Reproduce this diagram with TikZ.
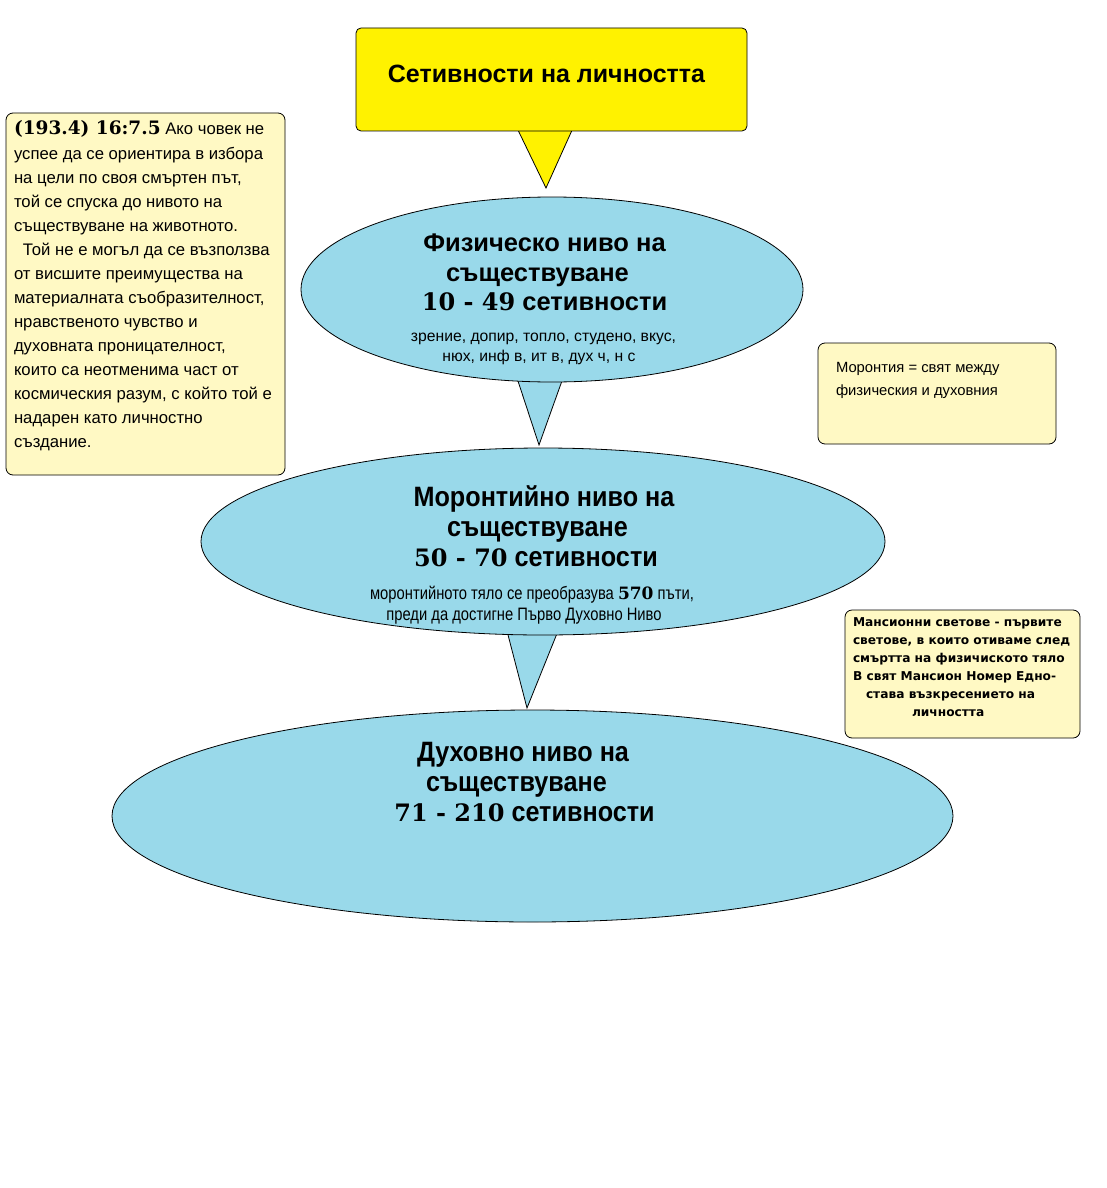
\documentclass[tikz,border=0pt]{standalone}
\usepackage{fontspec}
\setmainfont{Liberation Sans}
\newfontfamily\numfont{DejaVu Serif}
\newfontfamily\narrowfont[FakeStretch=0.82]{Liberation Sans}
\newfontfamily\narrowbfont[FakeStretch=0.9]{Liberation Sans}
\newfontfamily\sbfont{DejaVu Sans}
\usetikzlibrary{shapes.geometric,calc,backgrounds}
\definecolor{ylw}{RGB}{255,242,0}
\definecolor{blu}{RGB}{153,217,234}
\definecolor{notec}{RGB}{255,249,196}
\begin{document}
\begin{tikzpicture}[x=1pt,y=-1pt,
  every node/.style={inner sep=0pt,outer sep=0pt},
  lvl/.style={ellipse,draw=black,line width=0.8pt,fill=blu},
  notebox/.style={draw=black,line width=0.8pt,fill=notec,rounded corners=7pt},
  titlebox/.style={draw=black,line width=0.8pt,fill=ylw,rounded corners=5pt},
  ptr/.style={draw=black,line width=0.8pt,line join=miter},
  bigb/.style={anchor=base,font=\fontsize{25.5}{25.5}\selectfont\bfseries},
  bign/.style={anchor=base,font=\fontsize{28}{28}\narrowbfont\bfseries},
  bignum/.style={},
  smallt/.style={anchor=base,font=\fontsize{15.7}{15.7}\selectfont},
  smalln/.style={anchor=base,font=\fontsize{18}{18}\narrowfont},
  notet/.style={anchor=base west,font=\fontsize{16.7}{16.7}\selectfont},
  mant/.style={anchor=base west,font=\fontsize{12.2}{12.2}\sbfont\bfseries}]
\useasboundingbox (0,0) rectangle (1106,1188);

% shapes
\node[titlebox,minimum width=391pt,minimum height=103pt] (title) at (551.5,79.5) {};
\node[lvl,minimum width=502pt,minimum height=185pt] (e1) at (552,289.5) {};
\node[lvl,minimum width=684pt,minimum height=187pt] (e2) at (543,541.5) {};
\node[lvl,minimum width=841pt,minimum height=212pt] (e3) at (532.5,816) {};
\node[notebox,minimum width=279pt,minimum height=362pt] (left) at (145.5,294) {};
\node[notebox,minimum width=238pt,minimum height=101pt] (moron) at (937,393.5) {};
\node[notebox,minimum width=235pt,minimum height=128pt] (mans) at (962.5,674) {};

% pointers
\coordinate (tipT) at ($(e1.north)+(-6,-9)$);
\coordinate (tip1) at ($(e2.north)+(-4,-3)$);
\coordinate (tip2) at ($(e3.north)+(-5.5,-2)$);
\begin{pgfonlayer}{background}
\fill[white] (0,0) rectangle (1106,1188);
\filldraw[ptr,fill=ylw] ($(title.south)+(-34.5,-3)$) -- (tipT) -- ($(title.south)+(21.5,-3)$);
\filldraw[ptr,fill=blu] ($(e1.south)+(-35,-4)$) -- (tip1) -- ($(e1.south)+(11,-4)$);
\filldraw[ptr,fill=blu] ($(e2.south)+(-36,-4)$) -- (tip2) -- ($(e2.south)+(15,-4)$);
\end{pgfonlayer}

% title
\node[anchor=base,font=\fontsize{25}{25}\selectfont\bfseries] (ttl) at (546.5,83) {Сетивности на личността};

% ellipse 1
\node[bigb] (e1a) at (544.5,251) {Физическо ниво на};
\node[bigb] (e1b) at (537.5,281) {съществуване};
\node[bigb] (e1c) at (544.5,310) {{\numfont\fontsize{24}{24}\selectfont 10 - 49} сетивности};
\node[smallt] (e1d) at (543.5,341) {зрение, допир, топло, студено, вкус,};
\node[smallt] (e1e) at (539,361) {нюх, инф в, ит в, дух ч, н с};

% ellipse 2
\node[bign] (e2a) at (544,506) {Моронтийно ниво на};
\node[bign] (e2b) at (537.5,536) {съществуване};
\node[bign] (e2c) at (536,566) {{\numfont\fontsize{24}{24}\selectfont 50 - 70} сетивности};
\node[smalln] (e2d) at (532,599) {моронтийното тяло се преобразува {\numfont\bfseries\fontsize{17}{17}\selectfont 570} пъти,};
\node[smalln] (e2e) at (524,620) {преди да достигне Първо Духовно Ниво};

% ellipse 3
\node[bign] (e3a) at (523,761) {Духовно ниво на};
\node[bign] (e3b) at (516.5,791) {съществуване};
\node[bign] (e3c) at (524.5,821) {{\numfont\fontsize{24}{24}\selectfont 71 - 210} сетивности};

% left note
\foreach \t [count=\i] in {
  {{\numfont\bfseries\fontsize{18.5}{18.5}\selectfont (193.4) 16:7.5} Ако човек не},
  {успее да се ориентира в избора},
  {на цели по своя смъртен път,},
  {той се спуска до нивото на},
  {съществуване на животното.},
  {\hspace*{9pt}Той не е могъл да се възползва},
  {от висшите преимущества на},
  {материалната съобразителност,},
  {нравственото чувство и},
  {духовната проницателност,},
  {които са неотменима част от},
  {космическия разум, с който той е},
  {надарен като личностно},
  {създание.}}
  \node[notet] (L\i) at (14,{135+24*(\i-1)}) {\t};

% morontia note
\node[notet,font=\fontsize{14.8}{14.8}\selectfont] (m1) at (836,372) {Моронтия = свят между};
\node[notet,font=\fontsize{14.8}{14.8}\selectfont] (m2) at (836,395) {физическия и духовния};

% mansion note
\node[mant] (n1) at (853,626) {Мансионни светове - първите};
\node[mant] (n2) at (853,644) {светове, в които отиваме след};
\node[mant] (n3) at (853,662) {смъртта на физичиското тяло};
\node[mant] (n4) at (853,680) {В свят Мансион Номер Едно-};
\node[mant] (n5) at (866,698) {става възкресението на};
\node[mant] (n6) at (912,716) {личността};
\end{tikzpicture}
\end{document}
